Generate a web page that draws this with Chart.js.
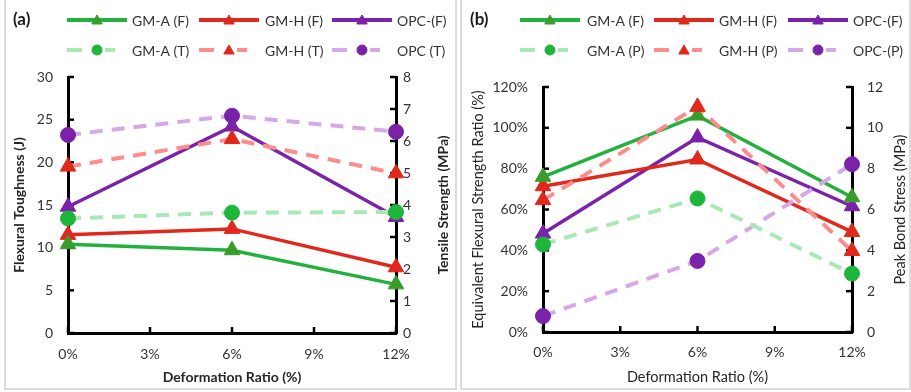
<!DOCTYPE html>
<html><head><meta charset="utf-8">
<script src="https://cdn.jsdelivr.net/npm/chart.js@4.4.0/dist/chart.umd.min.js"></script>
<style>
html,body{margin:0;padding:0;background:#fff;}
body{width:911px;height:392px;position:relative;overflow:hidden;font-family:Lato,sans-serif;}
.panel{position:absolute;box-sizing:border-box;border:2px solid #dcdcdc;border-top:none;background:#fff;}
#pa{left:4px;top:0px;width:453px;height:390px;}
#pb{left:460px;top:0px;width:451px;height:390px;}
canvas{position:absolute;}
#ca{left:5px;top:1px;}
#cb{left:461px;top:1px;}
</style></head><body>
<div class="panel" id="pa"></div>
<div class="panel" id="pb"></div>
<canvas id="ca" width="450" height="388"></canvas>
<canvas id="cb" width="449" height="388"></canvas>
<script>
// ---- data ----
const xPositions = [0, 6, 12];
const xTickLabels = ['0%', '3%', '6%', '9%', '12%'];

// panel (a)
const aNames = ['GM-A (F)', 'GM-H (F)', 'OPC-(F)', 'GM-A (T)', 'GM-H (T)', 'OPC (T)'];
const aGmaF = [10.4, 9.7, 5.7];
const aGmhF = [11.5, 12.2, 7.7];
const aOpcF = [14.8, 24.2, 13.6];
const aGmaT = [3.58, 3.76, 3.78];
const aGmhT = [5.2, 6.06, 4.99];
const aOpcT = [6.19, 6.79, 6.29];

// panel (b)
const bNames = ['GM-A (F)', 'GM-H (F)', 'OPC-(F)', 'GM-A (P)', 'GM-H (P)', 'OPC-(P)'];
const bGmaF = [76, 106, 66];
const bGmhF = [71.4, 84.5, 49];
const bOpcF = [48.2, 95.3, 61.6];
const bGmaP = [4.29, 6.54, 2.86];
const bGmhP = [6.46, 11.03, 3.97];
const bOpcP = [0.78, 3.48, 8.22];

// ---- styles ----
const STY = {
  gmaF: {borderColor:'#21b13c', marker:'#3a9d2a', shape:'triangle', dash:false},
  gmhF: {borderColor:'#e0281c', marker:'#e0281c', shape:'triangle', dash:false},
  opcF: {borderColor:'#7b22ab', marker:'#7b22ab', shape:'triangle', dash:false},
  gmaT: {borderColor:'#a8e8b5', marker:'#1db53c', shape:'circle', dash:true},
  gmhT: {borderColor:'#ff8c8c', marker:'#e0281c', shape:'triangle', dash:true},
  opcT: {borderColor:'#d6a8e8', marker:'#7b22ab', shape:'circle', dash:true}
};

function ds(label, values, axis, st) {
  return {
    label: label,
    data: values.map((v, i) => ({x: xPositions[i], y: v})),
    yAxisID: axis,
    borderColor: st.borderColor,
    borderWidth: st.dash ? 4 : 3.5,
    borderDash: st.dash ? [13, 9] : [],
    pointStyle: st.shape,
    pointRadius: st.shape === 'triangle' ? 9 : 7.5,
    pointHoverRadius: st.shape === 'triangle' ? 9 : 7.5,
    pointBackgroundColor: st.marker,
    pointBorderColor: st.marker,
    pointBorderWidth: 1,
    tension: 0,
    fill: false,
    clip: false,
    order: st.dash ? 1 : 2
  };
}

const inTicks = {
  id: 'inTicks',
  beforeDatasetsDraw(chart) {
    const ctx = chart.ctx, ca = chart.chartArea;
    ctx.save();
    ctx.strokeStyle = '#000';
    ctx.lineWidth = 2.5;
    for (const s of Object.values(chart.scales)) {
      s.ticks.forEach((t, i) => {
        const p = s.getPixelForTick(i);
        ctx.beginPath();
        if (s.axis === 'x') { ctx.moveTo(p, ca.bottom); ctx.lineTo(p, ca.bottom - 6); }
        else if (s.position === 'left') { ctx.moveTo(ca.left, p); ctx.lineTo(ca.left + 6, p); }
        else { ctx.moveTo(ca.right, p); ctx.lineTo(ca.right - 6, p); }
        ctx.stroke();
      });
    }
    ctx.restore();
  }
};

const panelLegend = {
  id: 'panelLegend',
  afterDraw(chart, args, opts) {
    const ctx = chart.ctx, ca = chart.chartArea;
    ctx.save();
    ctx.textBaseline = 'middle';
    ctx.textAlign = 'left';
    ctx.fillStyle = '#1a1a1a';
    ctx.font = 'bold 17px Lato';
    ctx.fillText(opts.tag, opts.tagX, opts.rowY[0]);
    chart.data.datasets.forEach((d, i) => {
      const col = i % 3, row = Math.floor(i / 3);
      const x0 = opts.colX[col], y = opts.rowY[row];
      ctx.strokeStyle = d.borderColor;
      ctx.lineWidth = 4;
      ctx.setLineDash([]);
      ctx.beginPath();
      if (!d.borderDash.length) {
        ctx.moveTo(x0, y); ctx.lineTo(x0 + 60, y);
      } else {
        ctx.moveTo(x0, y); ctx.lineTo(x0 + 15, y);
        ctx.moveTo(x0 + 38, y); ctx.lineTo(x0 + 48, y);
      }
      ctx.stroke();
      ctx.fillStyle = d.pointBackgroundColor;
      ctx.strokeStyle = d.pointBorderColor;
      ctx.lineWidth = 1;
      Chart.helpers.drawPoint(ctx, {pointStyle: d.pointStyle, rotation: 0,
        radius: d.pointStyle === 'triangle' ? 6 : 5, borderWidth: 1}, x0 + 30, y + (d.pointStyle === 'triangle' ? 1 : 0));
      ctx.fillStyle = '#333';
      ctx.font = '14px Lato';
      ctx.fillText(d.label, opts.textX[col], y + 1);
    });
    // right axis title, reading bottom-to-top
    ctx.translate(opts.rTitleX, (ca.top + ca.bottom) / 2);
    ctx.rotate(-Math.PI / 2);
    ctx.textAlign = 'center';
    ctx.fillStyle = '#262626';
    ctx.font = opts.rTitleFont;
    ctx.fillText(opts.rTitle, 0, 0);
    ctx.restore();
  }
};

function yAxis(pos, max, step, width, pad, title, font, tPad, fmt) {
  return {
    type: 'linear', position: pos, min: 0, max: max,
    afterFit(s) { s.width = width; },
    grid: {display: false, drawTicks: false, tickLength: 0, drawOnChartArea: false},
    border: {display: true, color: '#000', width: 3},
    ticks: {stepSize: step, padding: pad, color: '#333', font: {family: 'Lato', size: 14},
      callback: fmt},
    title: {display: !!title, text: title, color: '#262626', font: font,
      padding: {top: tPad, bottom: 0}}
  };
}

function xAxis(height, pad, font, tPad) {
  return {
    type: 'linear', position: 'bottom', min: 0, max: 12,
    afterFit(s) { s.height = height; },
    grid: {display: false, drawTicks: false, tickLength: 0, drawOnChartArea: false},
    border: {display: true, color: '#000', width: 3},
    ticks: {stepSize: 3, autoSkip: false, maxRotation: 0, padding: pad, color: '#333',
      font: {family: 'Lato', size: 14},
      callback: (v, i) => xTickLabels[i]},
    title: {display: true, text: 'Deformation Ratio (%)', color: '#262626', font: font,
      padding: {top: 0, bottom: tPad}}
  };
}

Chart.defaults.font.family = 'Lato';
const fontA = {family: 'Lato', size: 14, weight: 'bold'};
const fontB = {family: 'Lato', size: 14.5, weight: 'normal'};

new Chart(document.getElementById('ca'), {
  type: 'line',
  data: {
    datasets: [
      ds(aNames[0], aGmaF, 'y', STY.gmaF),
      ds(aNames[1], aGmhF, 'y', STY.gmhF),
      ds(aNames[2], aOpcF, 'y', STY.opcF),
      ds(aNames[3], aGmaT, 'y1', STY.gmaT),
      ds(aNames[4], aGmhT, 'y1', STY.gmhT),
      ds(aNames[5], aOpcT, 'y1', STY.opcT)
    ]
  },
  options: {
    responsive: false, animation: false, devicePixelRatio: 1,
    layout: {padding: {left: 0, right: 0, top: 76, bottom: 0}},
    plugins: {legend: {display: false}, tooltip: {enabled: false},
      panelLegend: {tag: '(a)', tagX: 8, rowY: [19, 49], colX: [62, 194, 327], textX: [127, 260, 392],
        rTitle: 'Tensile Strength (MPa)', rTitleX: 438, rTitleFont: 'bold 14px Lato'}},
    scales: {
      x: xAxis(56, 13, fontA, 3),
      y: yAxis('left', 30, 5, 63, 15, 'Flexural Toughness (J)', fontA, 6.5, v => v),
      y1: yAxis('right', 8, 1, 59, 7, '', fontA, 0, v => v)
    }
  },
  plugins: [inTicks, panelLegend]
});

new Chart(document.getElementById('cb'), {
  type: 'line',
  data: {
    datasets: [
      ds(bNames[0], bGmaF, 'y', STY.gmaF),
      ds(bNames[1], bGmhF, 'y', STY.gmhF),
      ds(bNames[2], bOpcF, 'y', STY.opcF),
      ds(bNames[3], bGmaP, 'y1', STY.gmaT),
      ds(bNames[4], bGmhP, 'y1', STY.gmhT),
      ds(bNames[5], bOpcP, 'y1', STY.opcT)
    ]
  },
  options: {
    responsive: false, animation: false, devicePixelRatio: 1,
    layout: {padding: {left: 0, right: 0, top: 86, bottom: 0}},
    plugins: {legend: {display: false}, tooltip: {enabled: false},
      panelLegend: {tag: '(b)', tagX: 9, rowY: [19, 49], colX: [59, 193, 327], textX: [126, 258, 392],
        rTitle: 'Peak Bond Stress (MPa)', rTitleX: 439, rTitleFont: '14.5px Lato'}},
    scales: {
      x: xAxis(57, 12, fontB, 2.5),
      y: yAxis('left', 120, 20, 82, 15, 'Equivalent Flexural Strength Ratio (%)', fontB, 8.5, v => v + '%'),
      y1: yAxis('right', 12, 2, 58, 15, '', fontB, 0, v => v)
    }
  },
  plugins: [inTicks, panelLegend]
});
</script>
</body></html>
